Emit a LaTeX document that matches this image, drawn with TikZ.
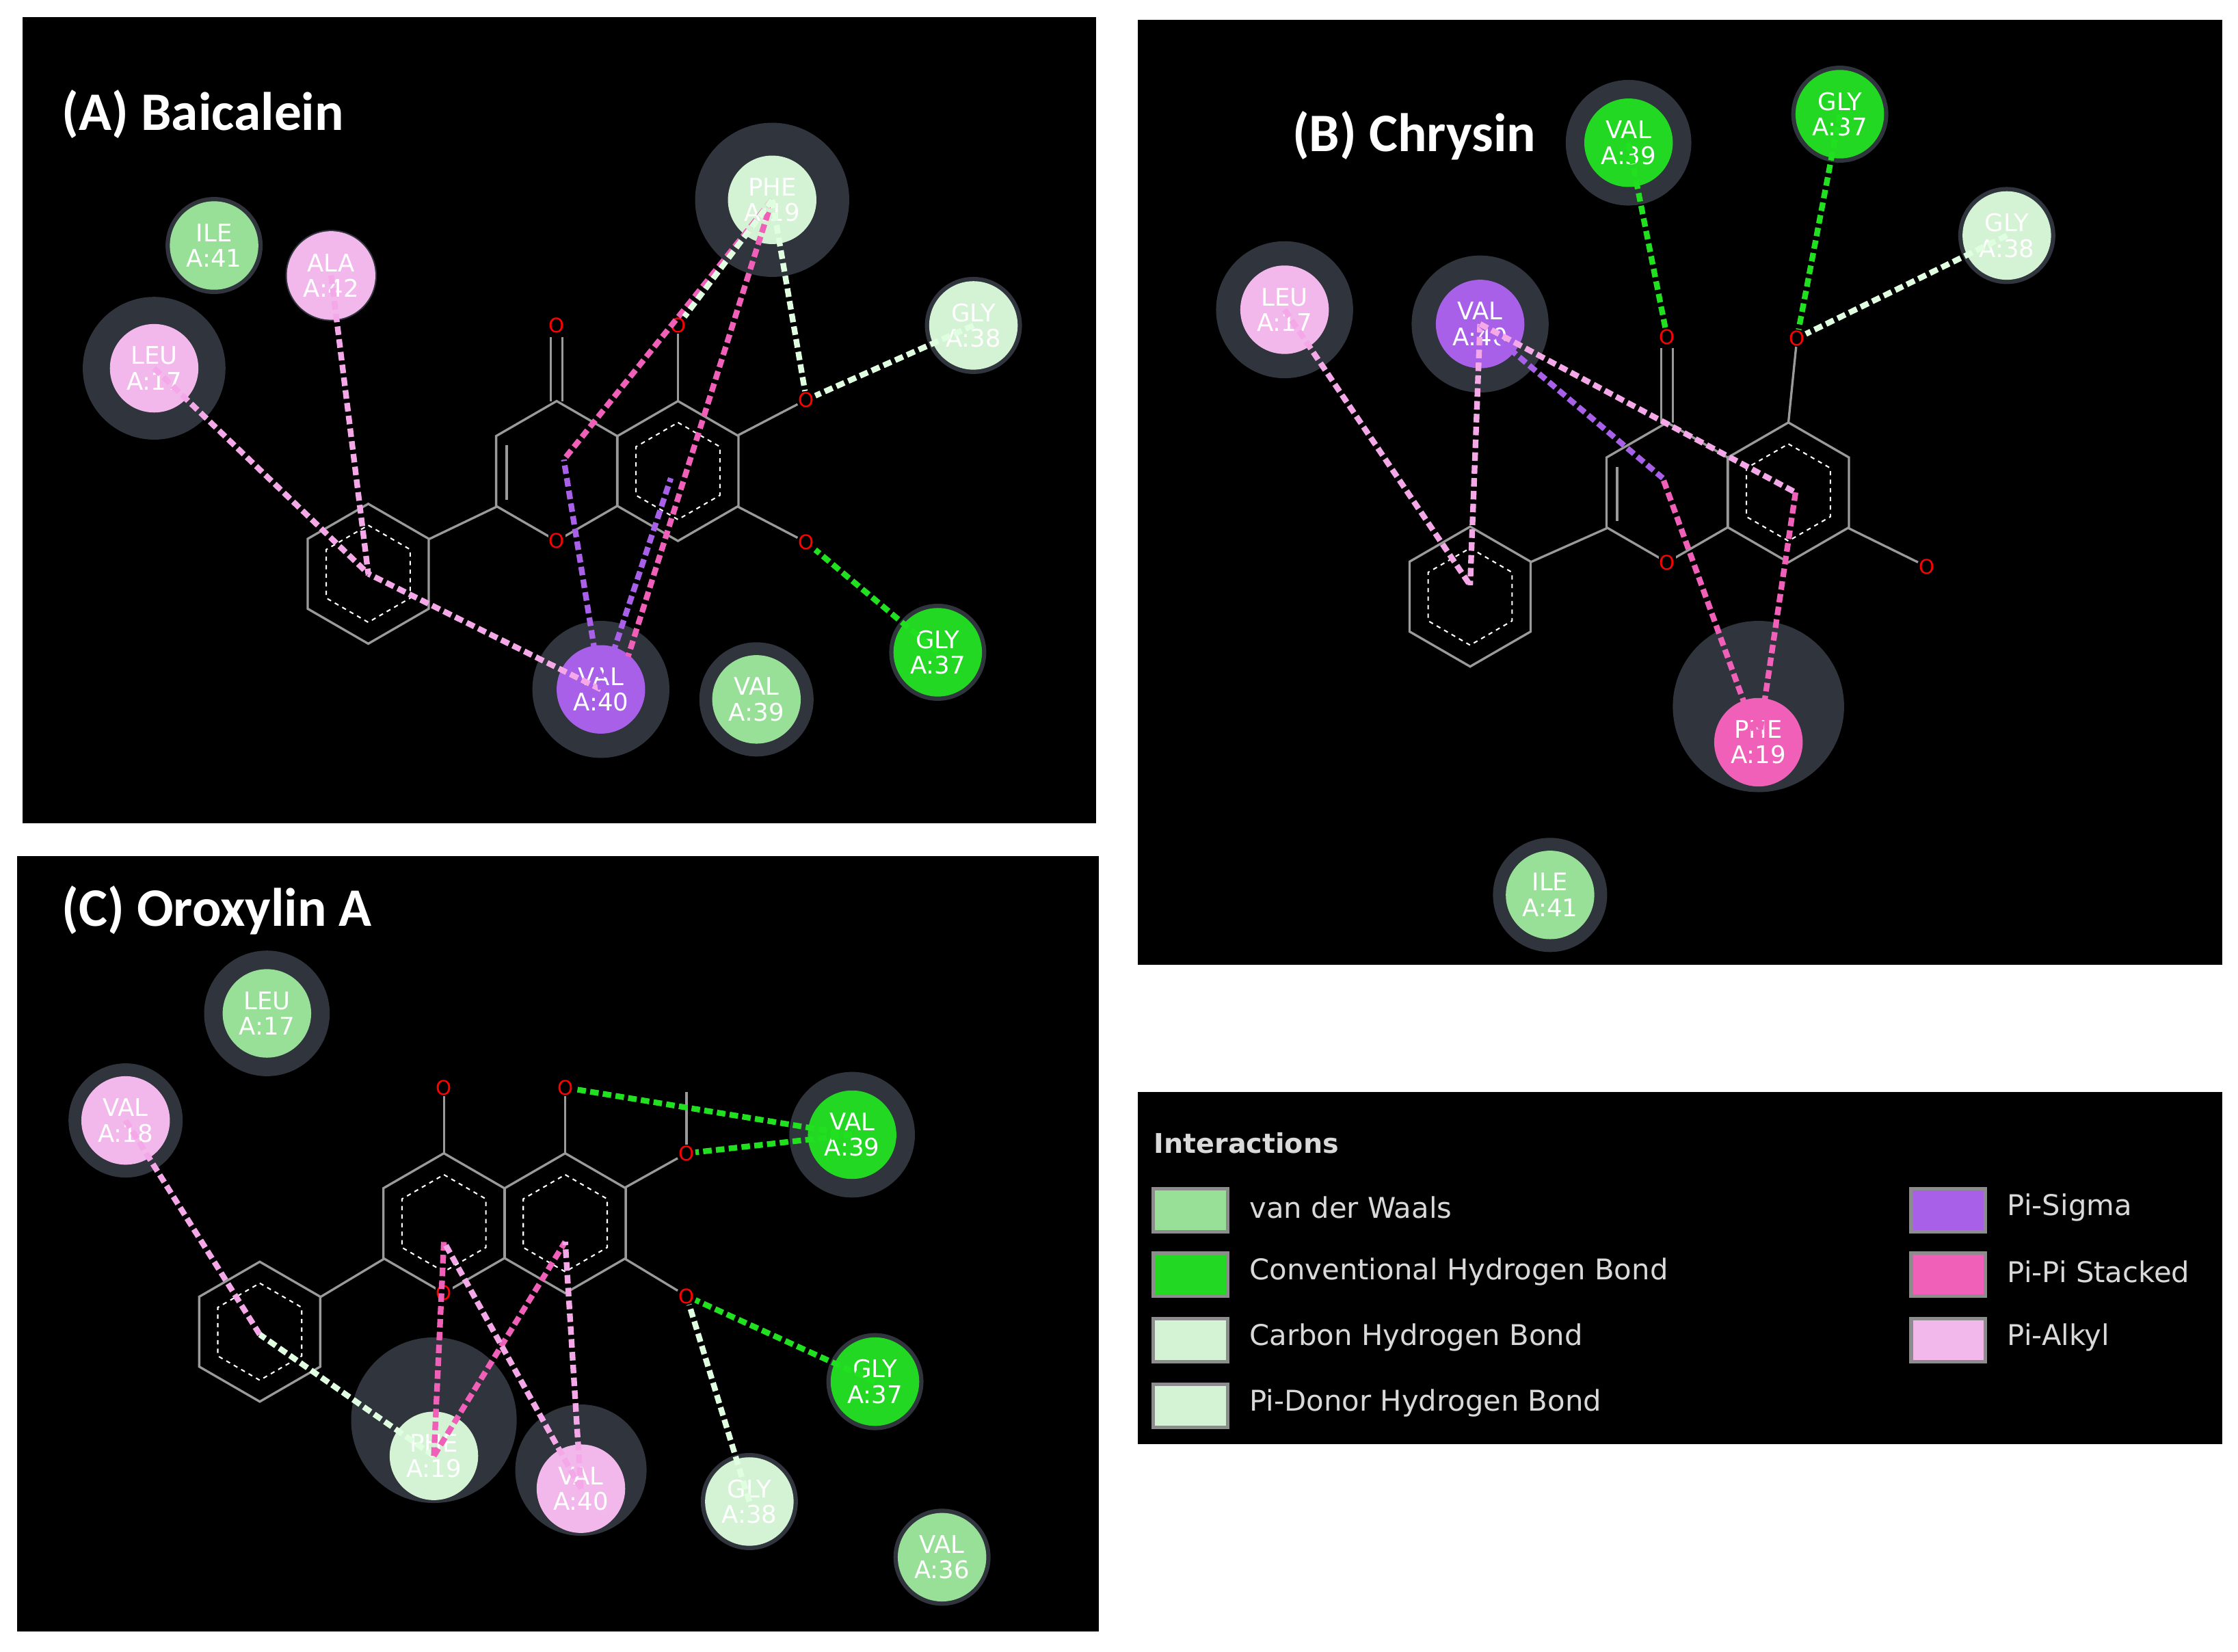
\documentclass[tikz,border=0pt]{standalone}
\usepackage{fontspec}
\setmainfont{DejaVu Sans}
\newfontfamily\tf{Carlito}
\usetikzlibrary{calc}
\definecolor{vdw}{HTML}{98E098}
\definecolor{chb}{HTML}{22D822}
\definecolor{cah}{HTML}{D4F2D4}
\definecolor{pal}{HTML}{F2B8EC}
\definecolor{psg}{HTML}{A860E8}
\definecolor{ppi}{HTML}{F060B8}
\definecolor{halo}{HTML}{30343C}
\definecolor{bond}{HTML}{9A9A9A}
\definecolor{lpink}{HTML}{F4A8E8}
\definecolor{lgreen}{HTML}{E0FFE0}
\definecolor{hgreen}{HTML}{20E020}
\tikzset{
 res/.style={circle,minimum size=62pt,inner sep=0pt,fill=#1,text=white,align=center,font=\fontsize{17}{18}\selectfont},
 il/.style={dash pattern=on 6pt off 3pt,line width=4pt,draw=#1},
 bd/.style={draw=bond,line width=1.6pt},
 ar/.style={draw=white,dash pattern=on 3pt off 3pt,line width=1pt},
 ox/.style={text=red,font=\fontsize{14}{14}\selectfont,inner sep=0.5pt,fill=black},
 ttl/.style={text=white,font=\tf\bfseries\fontsize{38}{38}\selectfont,anchor=west},
 lg/.style={text=white!85!black,font=\fontsize{20}{20}\selectfont,anchor=west},
 sw/.style={draw=white!55!black,line width=2.5pt,fill=#1,minimum width=52pt,minimum height=30pt,inner sep=0pt}
}
\newcommand{\hexa}[2]{%
 \draw[bd] (#1,#2) ++(0,-49) -- ++(42.4,24.5) -- ++(0,49) -- ++(-42.4,24.5) -- ++(-42.4,-24.5) -- ++(0,-49) -- cycle;}
\newcommand{\hexi}[2]{%
 \draw[ar] (#1,#2) ++(0,-34) -- ++(29.4,17) -- ++(0,34) -- ++(-29.4,17) -- ++(-29.4,-17) -- ++(0,-34) -- cycle;}
\begin{document}
\begin{tikzpicture}[x=1pt,y=-1pt]
\useasboundingbox[fill=white] (0,0) rectangle (1568,1157);
\fill[black] (16,12) rectangle (768,577);
\fill[black] (797,14) rectangle (1557,676);
\fill[black] (12,600) rectangle (770,1143);
\fill[black] (797,765) rectangle (1557,1012);
% ---------- A ----------
\node[ttl] (tA) at (40,80) {(A) Baicalein};
\foreach \p/\r in {{150,172}/34,{108,258}/50,{541,140}/54,{682,228}/34,{657,457}/34,{421,483}/48,{530,490}/40,{232,193}/32}
 \fill[halo] (\p) circle (\r);
\hexa{258}{402}\hexi{258}{402}
\hexa{390}{330}
\hexa{475}{330}\hexi{475}{330}
\draw[bd] (355,312) -- (355,350);
\draw[bd] (300,378) -- (348,355);
\node[ox] (oA1) at (390,228) {O};
\node[ox] (oA2) at (475,228) {O};
\node[ox] (oA3) at (565,280) {O};
\node[ox] (oA4) at (565,380) {O};
\node[ox] (oA5) at (390,379) {O};
\draw[bd] (386,281) -- (386,236); \draw[bd] (394,281) -- (394,236);
\draw[bd] (475,281) -- (oA2);
\draw[bd] (517,305) -- (oA3);
\draw[bd] (517,355) -- (oA4);
\coordinate (pA) at (258,402); \coordinate (mA) at (395,322); \coordinate (rA) at (470,335);
\node[res=vdw] (ile41a) at (150,172) {ILE\\A:41};
\node[res=pal] (ala42a) at (232,193) {ALA\\A:42};
\node[res=pal] (leu17a) at (108,258) {LEU\\A:17};
\node[res=cah] (phe19a) at (541,140) {PHE\\A:19};
\node[res=cah] (gly38a) at (682,228) {GLY\\A:38};
\node[res=chb] (gly37a) at (657,457) {GLY\\A:37};
\node[res=psg] (val40a) at (421,483) {VAL\\A:40};
\node[res=vdw] (val39a) at (530,490) {VAL\\A:39};
\draw[il=lpink] (leu17a.center) -- (pA);
\draw[il=lpink] (ala42a.center) -- (pA);
\draw[il=lpink] (val40a.center) -- (pA);
\draw[il=psg] (val40a.center) -- (mA);
\draw[il=psg] (val40a.center) -- (rA);
\draw[il=ppi] (phe19a.center) -- (mA);
\draw[il=ppi] (phe19a.center) -- (440,460);
\draw[il=lgreen] (phe19a.center) -- (oA2);
\draw[il=lgreen] (phe19a.center) -- (oA3);
\draw[il=lgreen] (gly38a.center) -- (oA3);
\draw[il=hgreen] (gly37a.center) -- (oA4);
% ---------- B ----------
\node[ttl] (tB) at (902,95) {(B) Chrysin};
\foreach \p/\r in {{1141,100}/44,{1289,80}/34,{1406,165}/34,{900,217}/48,{1037,227}/48,{1232,495}/60,{1086,627}/40}
 \fill[halo] (\p) circle (\r);
\hexa{1030}{418}\hexi{1030}{418}
\hexa{1168}{345}
\hexa{1253}{345}\hexi{1253}{345}
\draw[bd] (1133,327) -- (1133,365);
\draw[bd] (1072,394) -- (1126,370);
\node[ox] (oB1) at (1168,236) {O};
\node[ox] (oB2) at (1259,237) {O};
\node[ox] (oB3) at (1350,397) {O};
\node[ox] (oB5) at (1168,394) {O};
\draw[bd] (1164,296) -- (1164,244); \draw[bd] (1172,296) -- (1172,244);
\draw[bd] (1253,296) -- (oB2);
\draw[bd] (1295,370) -- (oB3);
\coordinate (pB) at (1030,410); \coordinate (mB) at (1165,335); \coordinate (rB) at (1258,345);
\node[res=chb] (val39b) at (1141,100) {VAL\\A:39};
\node[res=chb] (gly37b) at (1289,80) {GLY\\A:37};
\node[res=cah] (gly38b) at (1406,165) {GLY\\A:38};
\node[res=pal] (leu17b) at (900,217) {LEU\\A:17};
\node[res=psg] (val40b) at (1037,227) {VAL\\A:40};
\node[res=ppi] (phe19b) at (1232,520) {PHE\\A:19};
\node[res=vdw] (ile41b) at (1086,627) {ILE\\A:41};
\draw[il=lpink] (leu17b.center) -- (pB);
\draw[il=lpink] (val40b.center) -- (pB);
\draw[il=psg] (val40b.center) -- (mB);
\draw[il=lpink] (val40b.center) -- (rB);
\draw[il=ppi] (phe19b.center) -- (mB);
\draw[il=ppi] (phe19b.center) -- (rB);
\draw[il=hgreen] (val39b.center) -- (oB1);
\draw[il=hgreen] (gly37b.center) -- (oB2);
\draw[il=lgreen] (gly38b.center) -- (oB2);
% ---------- C ----------
\node[ttl] (tC) at (40,638) {(C) Oroxylin A};
\foreach \p/\r in {{187,710}/44,{88,785}/40,{597,795}/44,{613,968}/34,{304,995}/58,{407,1030}/46,{525,1052}/34,{660,1091}/34}
 \fill[halo] (\p) circle (\r);
\hexa{182}{933}\hexi{182}{933}
\hexa{311}{857}\hexi{311}{857}
\hexa{396}{857}\hexi{396}{857}
\draw[bd] (224,909) -- (269,882);
\node[ox] (oC1) at (311,762) {O};
\node[ox] (oC2) at (396,762) {O};
\node[ox] (oC3) at (481,808) {O};
\node[ox] (oC4) at (481,908) {O};
\node[ox] (oC5) at (311,906) {O};
\draw[bd] (311,808) -- (oC1);
\draw[bd] (396,808) -- (oC2);
\draw[bd] (438,832) -- (oC3);
\draw[bd] (oC3) -- (481,765);
\draw[bd] (438,882) -- (oC4);
\coordinate (pC) at (182,935); \coordinate (mC) at (311,870); \coordinate (rC) at (396,870);
\node[res=vdw] (leu17c) at (187,710) {LEU\\A:17};
\node[res=pal] (val18c) at (88,785) {VAL\\A:18};
\node[res=chb] (val39c) at (597,795) {VAL\\A:39};
\node[res=chb] (gly37c) at (613,968) {GLY\\A:37};
\node[res=cah] (phe19c) at (304,1020) {PHE\\A:19};
\node[res=pal] (val40c) at (407,1043) {VAL\\A:40};
\node[res=cah] (gly38c) at (525,1052) {GLY\\A:38};
\node[res=vdw] (val36c) at (660,1091) {VAL\\A:36};
\draw[il=lpink] (val18c.center) -- (pC);
\draw[il=lgreen] (phe19c.center) -- (pC);
\draw[il=ppi] (phe19c.center) -- (mC);
\draw[il=ppi] (phe19c.center) -- (rC);
\draw[il=lpink] (val40c.center) -- (mC);
\draw[il=lpink] (val40c.center) -- (rC);
\draw[il=hgreen] (val39c.center) -- (oC2);
\draw[il=hgreen] (val39c.center) -- (oC3);
\draw[il=hgreen] (gly37c.center) -- (oC4);
\draw[il=lgreen] (gly38c.center) -- (oC4);
% ---------- legend ----------
\node[text=white!85!black,font=\bfseries\fontsize{19}{19}\selectfont,anchor=west] (lt) at (805,801) {Interactions};
\node[sw=vdw] (s1) at (834,848) {}; \node[lg] (l1) at (872,846) {van der Waals};
\node[sw=chb] (s2) at (834,893) {}; \node[lg] (l2) at (872,891) {Conventional Hydrogen Bond};
\node[sw=cah] (s3) at (834,939) {}; \node[lg] (l3) at (872,937) {Carbon Hydrogen Bond};
\node[sw=cah] (s4) at (834,985) {}; \node[lg] (l4) at (872,983) {Pi-Donor Hydrogen Bond};
\node[sw=psg] (s5) at (1365,848) {}; \node[lg] (l5) at (1403,846) {Pi-Sigma};
\node[sw=ppi] (s6) at (1365,893) {}; \node[lg] (l6) at (1403,891) {Pi-Pi Stacked};
\node[sw=pal] (s7) at (1365,939) {}; \node[lg] (l7) at (1403,937) {Pi-Alkyl};
\end{tikzpicture}
\end{document}
